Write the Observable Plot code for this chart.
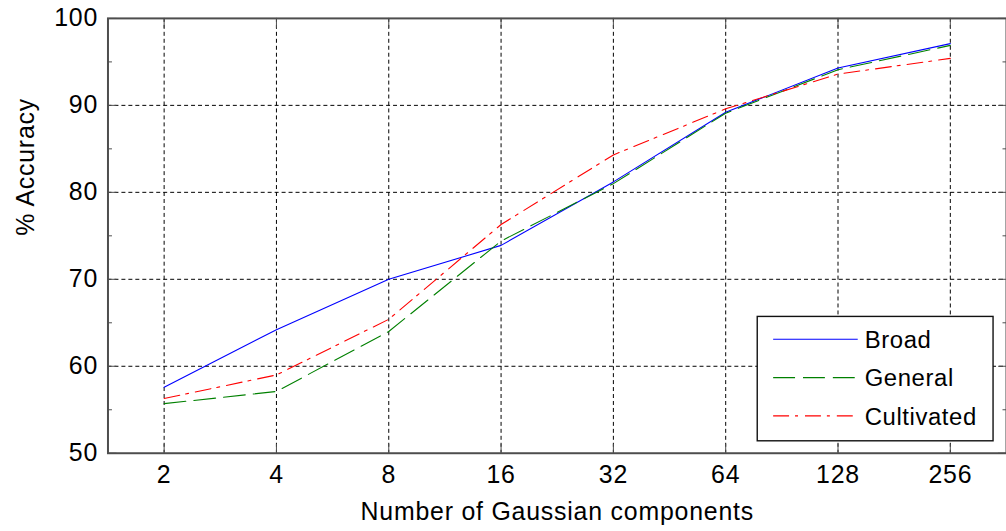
<!DOCTYPE html>
<html>
<head>
<meta charset="utf-8">
<script src="https://cdn.jsdelivr.net/npm/d3@7"></script>
<script src="https://cdn.jsdelivr.net/npm/@observablehq/plot@0.6"></script>
<style>
  html, body { margin: 0; padding: 0; background: #fff; overflow: hidden; }
  #chart svg { display: block; }
</style>
</head>
<body>
<div id="chart"></div>
<script>
// ---- data ----
const components = [2, 4, 8, 16, 32, 64, 128, 256];
const broad      = [57.6, 64.2, 70.0, 73.9, 81.2, 89.2, 94.3, 97.1];
const general    = [55.7, 57.1, 64.0, 74.4, 81.0, 89.1, 94.1, 96.9];
const cultivated = [56.3, 59.0, 65.4, 76.3, 84.3, 89.6, 93.6, 95.4];
const seriesNames = ["Broad", "General", "Cultivated"];
const yTicks = [50, 60, 70, 80, 90, 100];
const yGrid = [60, 70, 80, 90];
const yMinorTicks = [55, 65, 75, 85, 95];
const xLabel = "Number of Gaussian components";
const yLabel = "% Accuracy";

// ---- styles ----
const colors = {Broad: "#0000ff", General: "#008000", Cultivated: "#ff0000"};
const dashes = {Broad: null, General: "22,8", Cultivated: "16,6,3,7"};

const seriesValues = {Broad: broad, General: general, Cultivated: cultivated};
const rows = seriesNames.flatMap(s => components.map((c, i) => ({series: s, components: c, accuracy: seriesValues[s][i]})));

const axisColor = "#4d4d4d";
const gridStyle = {stroke: "#000", strokeOpacity: 1, strokeWidth: 1, strokeDasharray: "4,3"};

const chart = Plot.plot({
  width: 1011,
  height: 531,
  marginLeft: 108,
  marginRight: 0,
  marginTop: 18,
  marginBottom: 76,
  style: {fontFamily: "'Liberation Sans', Arial, sans-serif", fontSize: "25px", background: "#fff", color: "#000", letterSpacing: "0.8px"},
  x: {type: "log", base: 2, domain: [Math.SQRT2, 256 * Math.SQRT2]},
  y: {domain: [50, 100]},
  marks: [
    Plot.gridX(components, gridStyle),
    Plot.gridY(yGrid, gridStyle),
    ...seriesNames.map(s => Plot.line(rows.filter(r => r.series === s), {
      x: "components", y: "accuracy",
      stroke: colors[s], strokeWidth: 1.1,
      strokeDasharray: dashes[s]
    })),
    // inward tick marks
    Plot.axisX(components, {anchor: "bottom", tickSize: -9, tickFormat: () => "", label: null, stroke: axisColor}),
    Plot.axisX(components, {anchor: "top", tickSize: -9, tickFormat: () => "", label: null, stroke: axisColor}),
    Plot.axisY(yTicks, {anchor: "left", tickSize: -9, tickFormat: () => "", label: null, stroke: axisColor}),
    Plot.axisY(yMinorTicks, {anchor: "left", tickSize: -4.5, tickFormat: () => "", label: null, stroke: axisColor}),
    Plot.axisY(yTicks, {anchor: "right", tickSize: -9, tickFormat: () => "", label: null, stroke: axisColor}),
    Plot.axisY(yMinorTicks, {anchor: "right", tickSize: -4.5, tickFormat: () => "", label: null, stroke: axisColor}),
    // tick labels
    Plot.axisX(components, {anchor: "bottom", tickSize: 0, tickPadding: 12, tickFormat: d => String(d), label: null, fill: "#000"}),
    Plot.axisY(yTicks, {anchor: "left", tickSize: 0, tickPadding: 10, tickFormat: d => String(d), label: null, fill: "#000"}),
    // axis titles
    Plot.text([xLabel], {frameAnchor: "bottom", lineAnchor: "bottom", dy: 67, fontSize: 25, fill: "#000"}),
    Plot.text([yLabel], {frameAnchor: "left", rotate: -90, dx: -82, fontSize: 25, fill: "#000"}),
    Plot.frame({stroke: axisColor, strokeWidth: 2})
  ]
});

document.getElementById("chart").appendChild(chart);

// ---- legend (inside plot, lower right) ----
const svg = d3.select(chart);
const lg = svg.append("g").attr("class", "legend").attr("text-anchor", "start");
const box = {x: 761, y: 318, w: 237, h: 125};
lg.append("rect")
  .attr("x", box.x).attr("y", box.y).attr("width", box.w).attr("height", box.h)
  .attr("fill", "#fff").attr("stroke", "#111").attr("stroke-width", 1.4);
seriesNames.forEach((s, i) => {
  const cy = 341 + i * 38.5;
  lg.append("line")
    .attr("x1", 777).attr("x2", 862).attr("y1", cy).attr("y2", cy)
    .attr("stroke", colors[s]).attr("stroke-width", 1.1)
    .attr("stroke-dasharray", dashes[s]);
  lg.append("text")
    .attr("x", 869).attr("y", cy).attr("dy", "0.36em")
    .attr("text-anchor", "start")
    .attr("font-family", "'Liberation Sans', Arial, sans-serif")
    .attr("font-size", 24).attr("letter-spacing", "0.6px")
    .attr("fill", "#000")
    .text(s);
});
</script>
</body>
</html>
